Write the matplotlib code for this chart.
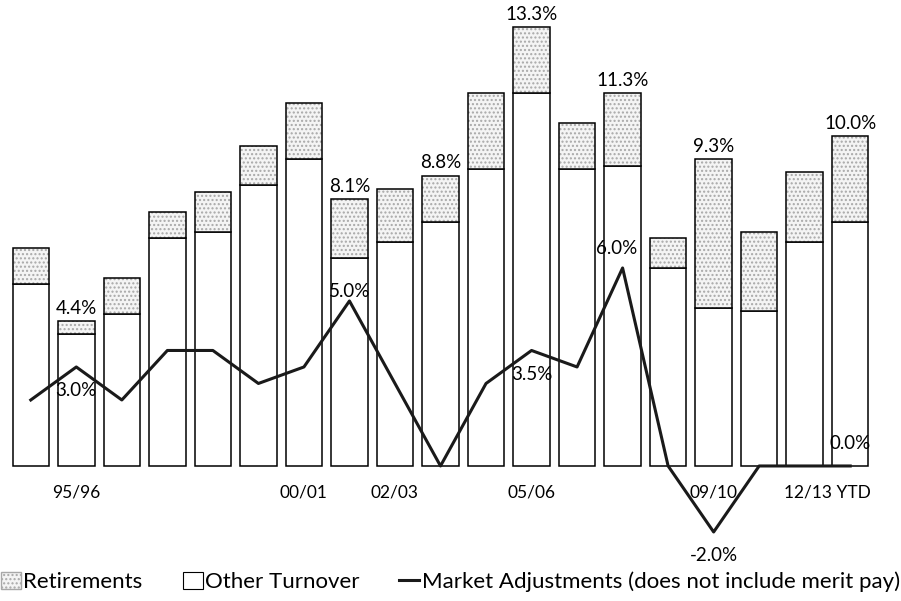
import numpy as np
import matplotlib
matplotlib.use("Agg")
import matplotlib.pyplot as plt
from matplotlib.patches import Patch
from matplotlib.lines import Line2D

# --- data (percent) ---
categories = ["94/95", "95/96", "96/97", "97/98", "98/99", "99/00", "00/01",
              "01/02", "02/03", "03/04", "04/05", "05/06", "06/07", "07/08",
              "08/09", "09/10", "10/11", "11/12", "12/13 YTD"]
other_turnover = [5.5, 4.0, 4.6, 6.9, 7.1, 8.5, 9.3, 6.3, 6.8, 7.4,
                  9.0, 11.3, 9.0, 9.1, 6.0, 4.8, 4.7, 6.8, 7.4]
retirements = [1.1, 0.4, 1.1, 0.8, 1.2, 1.2, 1.7, 1.8, 1.6, 1.4,
               2.3, 2.0, 1.4, 2.2, 0.9, 4.5, 2.4, 2.1, 2.6]
market_adj = [2.0, 3.0, 2.0, 3.5, 3.5, 2.5, 3.0, 5.0, 2.5, 0.0,
              2.5, 3.5, 3.0, 6.0, 0.0, -2.0, 0.0, 0.0, 0.0]

shown_cats = ["95/96", "00/01", "02/03", "05/06", "09/10", "12/13 YTD"]
total_label_idx = [1, 7, 9, 11, 13, 15, 18]
# index -> vertical offset of the label in points (+ above, - below)
line_label_off = {1: -11, 7: 1, 11: -11, 13: 8, 15: -11, 18: 10}

plt.rcParams["font.family"] = ["Lato", "DejaVu Sans"]

fig = plt.figure(figsize=(9.01, 6.01), dpi=100)
ax = fig.add_axes([0.0089, 0.0874, 0.96, 0.906])

x = np.arange(len(categories))
other = np.array(other_turnover)
ret = np.array(retirements)
total = other + ret
w = 0.8

# other turnover (white)
ax.bar(x, other, w, color="white", edgecolor="black", linewidth=1.1, zorder=2)
# retirements: dotted texture, then outline
ax.bar(x, ret, w, bottom=other, color="#f4f4f4", edgecolor="#a8a8a8",
       hatch="....", linewidth=0, zorder=2)
ax.bar(x, ret, w, bottom=other, fill=False, edgecolor="black", linewidth=1.1, zorder=3)

# market adjustments line
ax.plot(x, market_adj, color="#1a1a1a", linewidth=2.2, zorder=5)

# labels on totals
for i in total_label_idx:
    ax.annotate(f"{total[i]:.1f}%", (x[i], total[i]), xytext=(0, 3),
                textcoords="offset points", ha="center", va="bottom", fontsize=13.5)

for i, dy in line_label_off.items():
    va = "bottom" if dy > 0 else "top"
    ax.annotate(f"{market_adj[i]:.1f}%", (x[i], market_adj[i]), xytext=(-4 if i == 13 else 0, dy),
                textcoords="offset points", ha="center", va=va, fontsize=13.5, zorder=4)

# category labels
for i, c in enumerate(categories):
    if c in shown_cats:
        if i == len(categories) - 1:
            ax.annotate(c, (x[i] + w / 2, 0), xytext=(2, -19), textcoords="offset points",
                        ha="right", va="center", fontsize=12.5, zorder=4)
        else:
            ax.annotate(c, (x[i], 0), xytext=(0, -19), textcoords="offset points",
                        ha="center", va="center", fontsize=12.5, zorder=4)

ax.set_xlim(-0.5, len(categories) - 0.5)
ax.set_ylim(-2.5, 14)
ax.axis("off")

handles = [
    Patch(facecolor="#f4f4f4", edgecolor="#a8a8a8", hatch="....", label="Retirements"),
    Patch(facecolor="white", edgecolor="black", linewidth=0.8, label="Other Turnover"),
    Line2D([], [], color="#1a1a1a", linewidth=2.2, label="Market Adjustments (does not include merit pay)"),
]
fig.legend(handles=handles, loc="center", bbox_to_anchor=(0.5, 1 - 582 / 601), ncol=3,
           frameon=False, fontsize=16, handlelength=0.9, handleheight=0.8,
           handletextpad=0.1, columnspacing=1.8, borderaxespad=0, borderpad=0)

fig.savefig("out.png", dpi=100)
